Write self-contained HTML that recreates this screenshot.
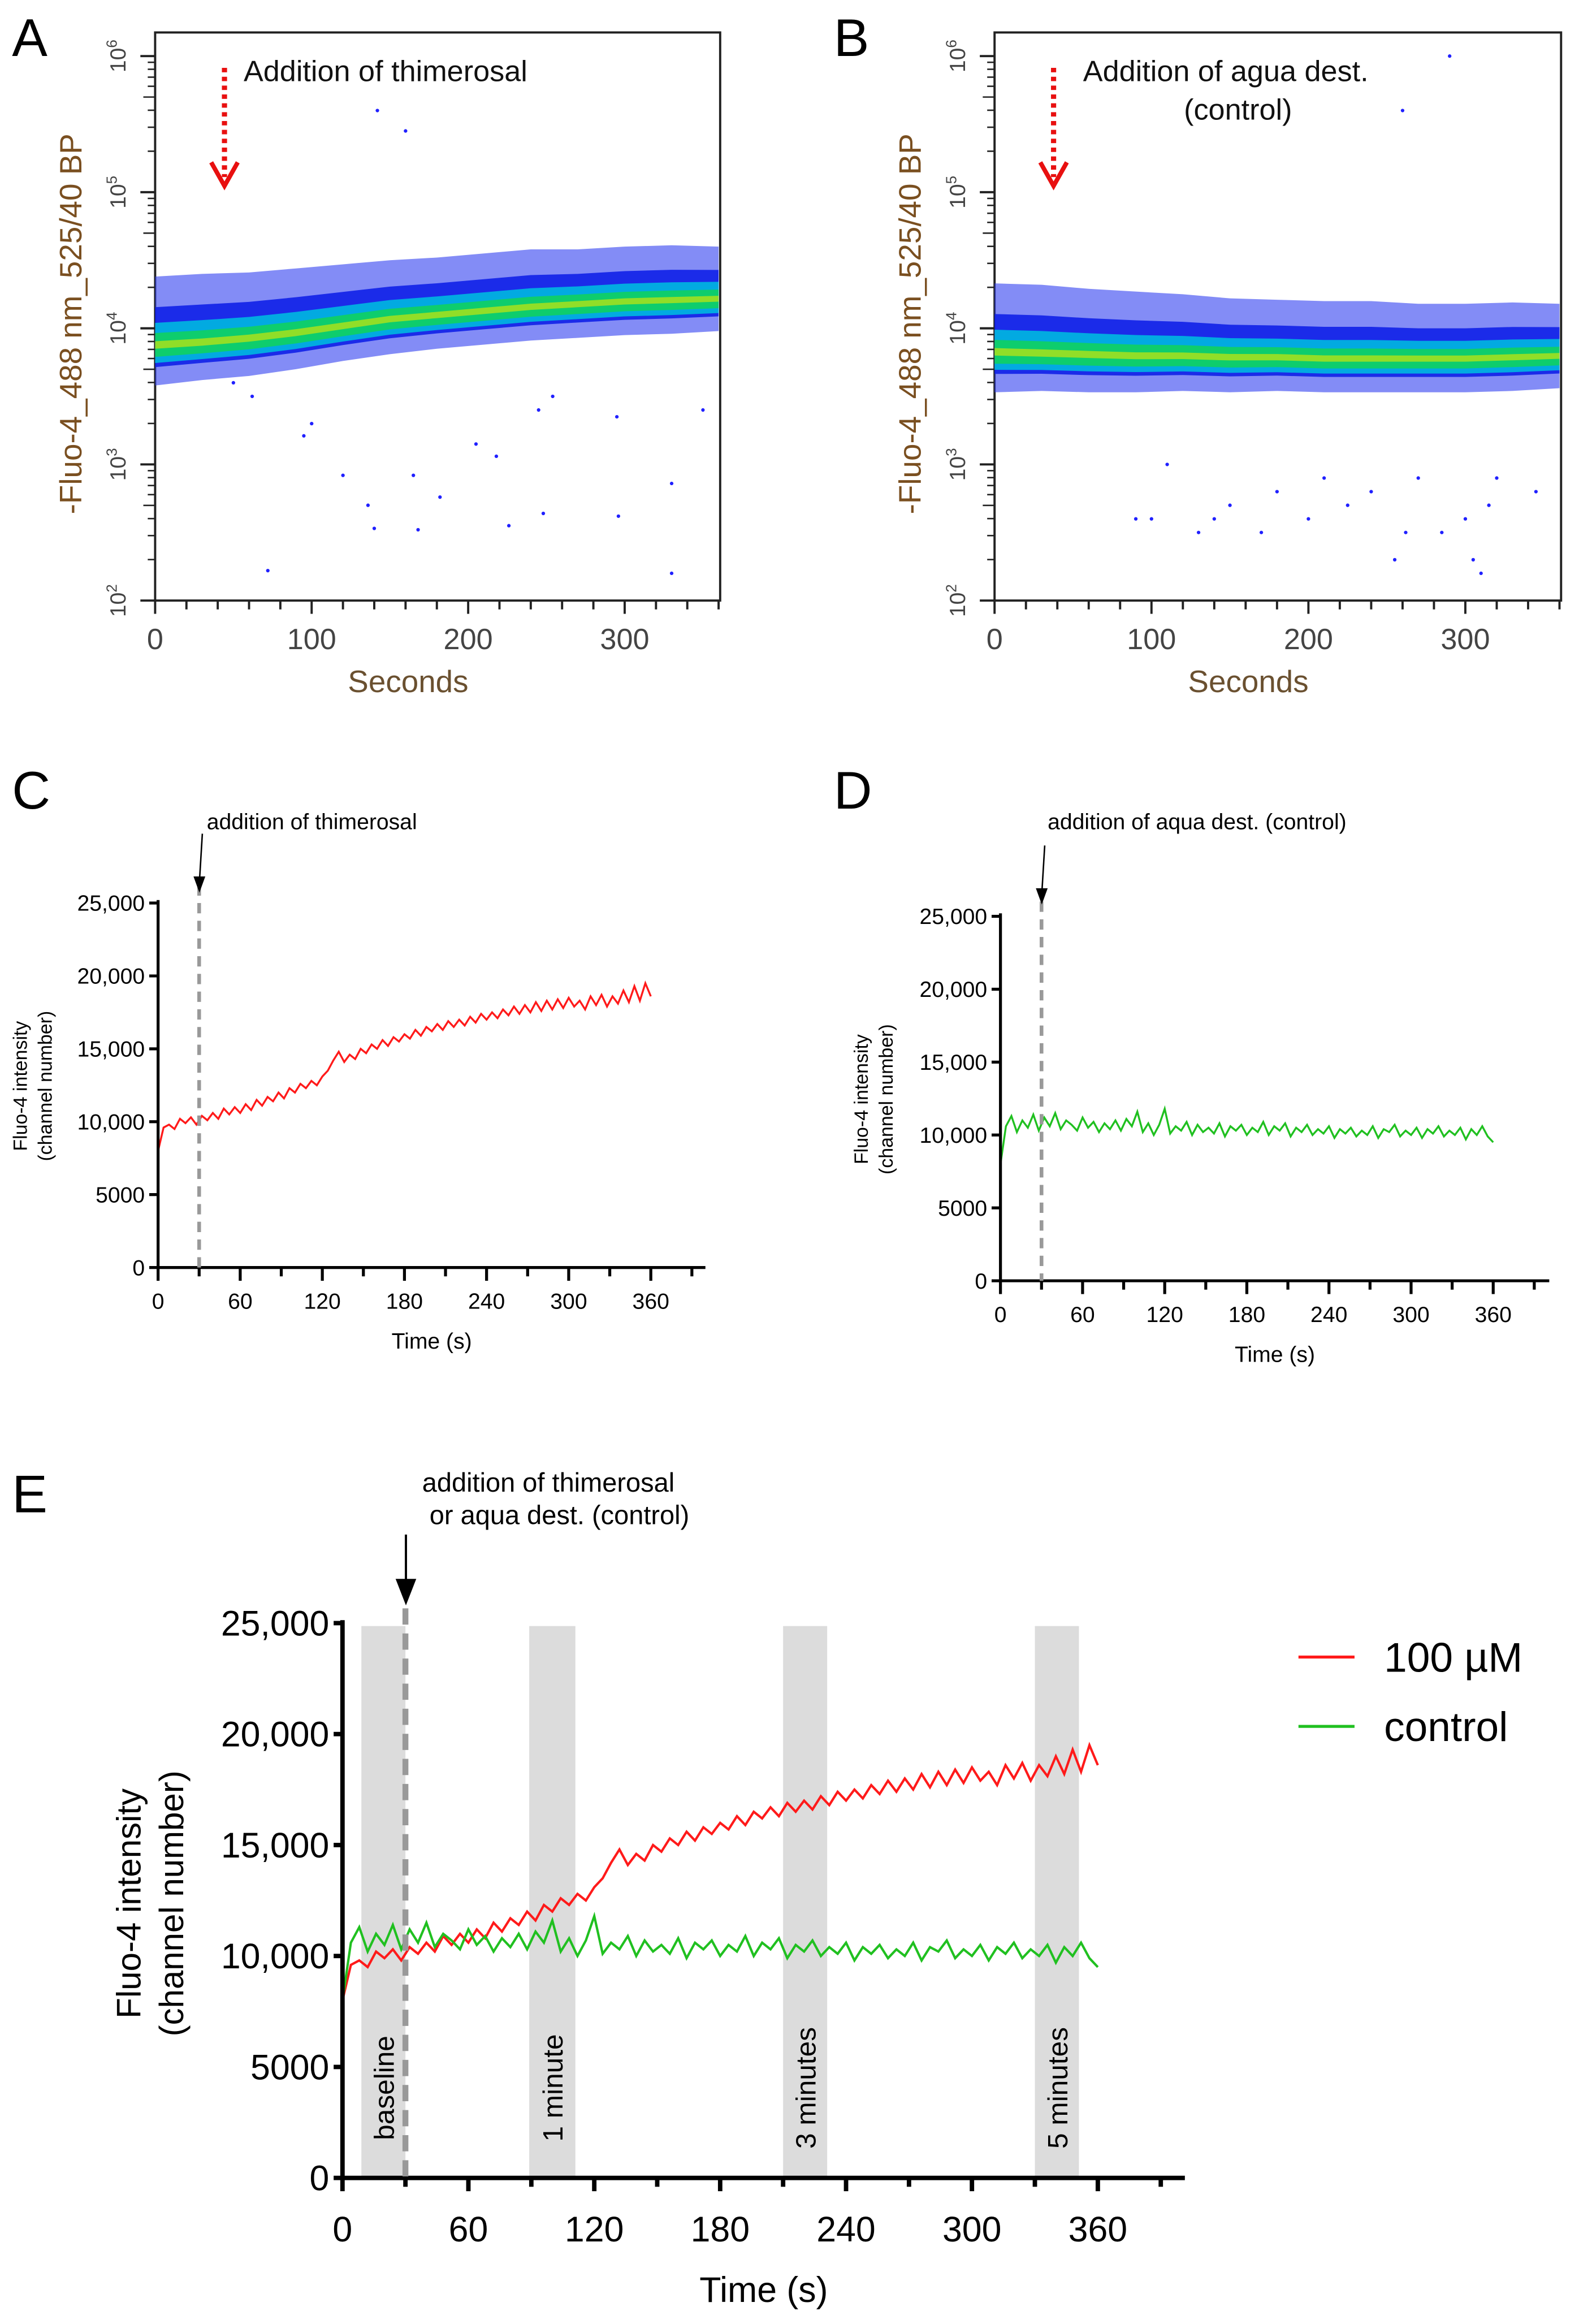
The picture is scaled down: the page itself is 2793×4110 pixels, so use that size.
<!DOCTYPE html>
<html><head><meta charset="utf-8"><style>
html,body{margin:0;padding:0;background:#fff}
svg{display:block}
text{font-family:"Liberation Sans",Arial,sans-serif}
</style></head><body>
<svg id="fig" width="2793" height="4110" viewBox="0 0 1070 1575" xmlns="http://www.w3.org/2000/svg">
<g id="gA"></g>
<g id="gB"></g>
<g id="gC"></g>
<g id="gD"></g>
<g id="gE"></g>
</svg>
<script>
// ---- data ----
const scatterTimes=[0,30,60,90,120,150,180,210,240,270,300,330,360];
const centerA=[3.88,3.9,3.93,3.97,4.02,4.07,4.1,4.13,4.16,4.18,4.2,4.21,4.22];
const centerB=[3.83,3.82,3.81,3.8,3.8,3.79,3.79,3.78,3.78,3.78,3.78,3.79,3.8];
const blueUp=[0.5,0.5,0.48,0.47,0.45,0.43,0.42,0.42,0.42,0.4,0.4,0.4,0.38];
const blueDown=[0.3,0.28,0.28,0.27,0.26,0.26,0.25,0.25,0.25,0.25,0.25,0.25,0.24];
const outliersA_t=[72,120,136,140,142,160,165,168,182,205,218,226,248,254,296,330,330,350,95,100,50,62,245,295];
const outliersA_v=[2.22,2.92,2.7,2.53,5.6,5.45,2.92,2.52,2.76,3.15,3.06,2.55,2.64,3.5,2.62,2.2,2.86,3.4,3.21,3.3,3.6,3.5,3.4,3.35];
const outliersB_t=[90,100,130,140,150,170,200,210,225,240,255,262,270,285,290,300,305,310,315,320,110,180,260,345];
const outliersB_v=[2.6,2.6,2.5,2.6,2.7,2.5,2.6,2.9,2.7,2.8,2.3,2.5,2.9,2.5,6.0,2.6,2.3,2.2,2.7,2.9,3.0,2.8,5.6,2.8];
const red=[8000,9600,9800,9500,10200,9900,10300,9800,10400,10100,10600,10200,10900,10500,11000,10600,11200,10800,11500,11100,11700,11400,12000,11600,12300,12000,12600,12300,12800,12500,13100,13500,14200,14800,14100,14600,14300,15000,14700,15300,15000,15600,15200,15800,15500,16000,15700,16300,15900,16500,16200,16700,16300,16900,16500,17000,16600,17200,16800,17400,17000,17500,17100,17700,17300,17900,17400,18000,17500,18200,17600,18300,17700,18400,17800,18500,17900,18300,17700,18600,18000,18700,17900,18600,18100,19000,18200,19300,18300,19500,18600];
const green=[8000,10600,11300,10200,11000,10500,11400,10300,11200,10600,11500,10400,11000,10700,10300,11200,10500,10900,10200,10800,10400,11000,10300,11100,10600,11600,10200,10800,10000,10700,11800,10100,10600,10300,10900,10000,10700,10200,10500,10100,10800,9900,10600,10300,10700,10000,10500,10200,10900,10000,10600,10300,10800,9900,10500,10200,10700,10000,10400,10100,10600,9800,10400,10100,10500,9900,10300,10000,10600,9800,10400,10200,10700,9900,10300,10000,10500,9800,10400,10100,10600,9900,10300,10000,10500,9700,10400,10000,10600,9900,9500];
const yTicksLin=[0,5000,10000,15000,20000,25000];
const yTickLabels=["0","5000","10,000","15,000","20,000","25,000"];
const xTicksLin=[0,60,120,180,240,300,360];
const bandStarts=[9,89,210,330];
const bandEnds=[30,111,231,351];
const bandLabels=["baseline","1 minute","3 minutes","5 minutes"];
const logTicks=[2,3,4,5,6];
const xTicksSec=[0,100,200,300];

const NS="http://www.w3.org/2000/svg";
function el(p,tag,attrs,txt){const e=document.createElementNS(NS,tag);for(const k in attrs)e.setAttribute(k,attrs[k]);if(txt!==undefined)e.textContent=txt;p.appendChild(e);return e;}

function scatter(g,left,right,top,bottom,center,outT,outV,label,label2,arrowX){
  const xs=t=>left+t*(right-left)/361;
  const ys=v=>bottom-(v-2)*(bottom-top-16)/4;
  el(g,'rect',{x:left,y:top,width:right-left,height:bottom-top,fill:'#fff',stroke:'#222','stroke-width':1.5});
  const layers=[[1,1,'#3040f0',0.6],[0.55,0.55,'#1020e8',0.9],[0.32,0.45,'#00b8e0',0.9],[0.17,0.3,'#10d060',0.9],[0.05,0.1,'#a0e020',0.9]];
  layers.forEach((L,li)=>{
    let up=[],dn=[];
    scatterTimes.forEach((t,i)=>{up.push(xs(t)+','+ys(center[i]+blueUp[i]*L[0]));dn.unshift(xs(t)+','+ys(center[i]-blueDown[i]*L[1]));});
    const pg=el(g,'polygon',{points:up.concat(dn).join(' '),fill:L[2],opacity:L[3]});
    
    
  });
  outT.forEach((t,i)=>{const c=el(g,'circle',{cx:xs(t),cy:ys(outV[i]),r:1.2,fill:'#2020ff'});
    
    });
  logTicks.forEach(k=>{
    el(g,'line',{x1:left-10,x2:left,y1:ys(k),y2:ys(k),stroke:'#222','stroke-width':1.5});
    for(let m=2;m<10&&k<6;m++){const yy=ys(k+Math.log10(m));el(g,'line',{x1:left-(m==5?8:5),x2:left,y1:yy,y2:yy,stroke:'#222','stroke-width':1});}
    const t=el(g,'text',{x:0,y:0,'font-size':15,fill:'#444',transform:`translate(${left-20},${ys(k)}) rotate(-90)`,'text-anchor':'middle'});
    t.textContent='10';el(t,'tspan',{dy:-6,'font-size':10},String(k));
  });
  for(let t=0;t<=360;t+=20){el(g,'line',{x1:xs(t),x2:xs(t),y1:bottom,y2:bottom+(t%100==0?9:6),stroke:'#222','stroke-width':1.5});}
  xTicksSec.forEach(t=>el(g,'text',{x:xs(t),y:bottom+33,'font-size':20,fill:'#444','text-anchor':'middle'},String(t)));
  el(g,'text',{x:(left+right)/2-20,y:bottom+62,'font-size':21,fill:'#6a5030','text-anchor':'middle'},'Seconds');
  el(g,'text',{x:0,y:0,'font-size':21,fill:'#7a4f20','text-anchor':'middle',transform:`translate(${left-50},${(top+bottom)/2+5}) rotate(-90)`},'-Fluo-4_488 nm_525/40 BP');
  el(g,'line',{x1:arrowX,x2:arrowX,y1:top+24,y2:top+98,stroke:'#e81010','stroke-width':3.5,'stroke-dasharray':'3,3'});
  el(g,'polyline',{points:`${arrowX-9},${top+88} ${arrowX},${top+104} ${arrowX+9},${top+88}`,fill:'none',stroke:'#e81010','stroke-width':3});
  el(g,'text',{x:left+60,y:top+33,'font-size':20,fill:'#111'},label);
  if(label2)el(g,'text',{x:left+165,y:top+59,'font-size':20,fill:'#111','text-anchor':'middle'},label2);
}
scatter(document.getElementById('gA'),105,488,22,407,centerA,outliersA_t,outliersA_v,'Addition of thimerosal',null,152);
scatter(document.getElementById('gB'),674,1058,22,407,centerB,outliersB_t,outliersB_v,'Addition of agua dest.','(control)',714);
el(document.getElementById('gA'),'text',{x:8,y:38,'font-size':36,fill:'#000'},'A');
el(document.getElementById('gB'),'text',{x:565,y:38,'font-size':36,fill:'#000'},'B');

function linePanel(g,x0,x360,axEnd,y0,y25,series,colors,fs,tfs,lw,tickOff,titleOff){
  const xs=t=>x0+t*(x360-x0)/360;
  const ys=v=>y0-v*(y0-y25)/25000;
  const sw=fs>18?3:2;
  series.forEach((s,si)=>{
    const pts=s.map((v,i)=>xs(i*360/(s.length-1))+','+ys(v)).join(' ');
    const pl=el(g,'polyline',{points:pts,fill:'none',stroke:colors[si],'stroke-width':lw});
    
    
  });
  el(g,'line',{x1:x0,x2:x0,y1:y25-2,y2:y0,stroke:'#000','stroke-width':sw});
  el(g,'line',{x1:x0,x2:axEnd,y1:y0,y2:y0,stroke:'#000','stroke-width':sw});
  yTicksLin.forEach((v,i)=>{el(g,'line',{x1:x0-6,x2:x0,y1:ys(v),y2:ys(v),stroke:'#000','stroke-width':sw});
    el(g,'text',{x:x0-9,y:ys(v)+fs*0.35,'font-size':fs,'text-anchor':'end'},yTickLabels[i]);});
  for(let t=0;t<=400;t+=30){const x=xs(t);if(x>axEnd+1)break;el(g,'line',{x1:x,x2:x,y1:y0,y2:y0+(t%60==0?9:6),stroke:'#000','stroke-width':sw});}
  xTicksLin.forEach(t=>el(g,'text',{x:xs(t),y:y0+tickOff,'font-size':fs,'text-anchor':'middle'},String(t)));
  el(g,'text',{x:(x0+axEnd)/2,y:y0+titleOff,'font-size':tfs,'text-anchor':'middle'},'Time (s)');
  return {xs,ys};
}
// C
(function(){const g=document.getElementById('gC');
 const a=linePanel(g,107,441,478,859,612,[red],['#ff1a1a'],15,15,1.3,28,55);
 el(g,'line',{x1:a.xs(30),x2:a.xs(30),y1:600,y2:859,stroke:'#999','stroke-width':2.5,'stroke-dasharray':'7,5'});
 el(g,'line',{x1:137,x2:135,y1:565,y2:598,stroke:'#000','stroke-width':1});
 el(g,'polygon',{points:'131,594 135,605 139,594',fill:'#000'});
 el(g,'text',{x:140,y:562,'font-size':15},'addition of thimerosal');
 el(g,'text',{x:0,y:0,'font-size':13,'text-anchor':'middle',transform:'translate(18,736) rotate(-90)'},'Fluo-4 intensity');
 el(g,'text',{x:0,y:0,'font-size':13,'text-anchor':'middle',transform:'translate(35,736) rotate(-90)'},'(channel number)');
 el(g,'text',{x:8,y:548,'font-size':36},'C');})();
// D
(function(){const g=document.getElementById('gD');
 const a=linePanel(g,678,1012,1050,868,621,[green],['#20c020'],15,15,1.3,28,55);
 el(g,'line',{x1:a.xs(30),x2:a.xs(30),y1:611,y2:868,stroke:'#999','stroke-width':2.5,'stroke-dasharray':'7,5'});
 el(g,'line',{x1:708,x2:706,y1:573,y2:606,stroke:'#000','stroke-width':1});
 el(g,'polygon',{points:'702,602 706,613 710,602',fill:'#000'});
 el(g,'text',{x:710,y:562,'font-size':15},'addition of aqua dest. (control)');
 el(g,'text',{x:0,y:0,'font-size':13,'text-anchor':'middle',transform:'translate(588,745) rotate(-90)'},'Fluo-4 intensity');
 el(g,'text',{x:0,y:0,'font-size':13,'text-anchor':'middle',transform:'translate(605,745) rotate(-90)'},'(channel number)');
 el(g,'text',{x:565,y:548,'font-size':36},'D');})();
// E
(function(){const g=document.getElementById('gE');
 const xs=t=>232+t*(744-232)/360;
 bandStarts.forEach((s,i)=>{const r=el(g,'rect',{x:xs(s),y:1102,width:xs(bandEnds[i])-xs(s),height:374,fill:'#dcdcdc'});
   
   
   const cx=(xs(s)+xs(bandEnds[i]))/2;
   el(g,'text',{x:0,y:0,'font-size':19,'text-anchor':'middle',transform:`translate(${cx+7},${1415}) rotate(-90)`},bandLabels[i]);});
 linePanel(g,232,744,803,1476,1100,[red,green],['#ff1a1a','#20c020'],24,24,1.6,43,84);
 el(g,'line',{x1:xs(30),x2:xs(30),y1:1090,y2:1476,stroke:'#999','stroke-width':4,'stroke-dasharray':'11,6'});
 el(g,'line',{x1:275,x2:275,y1:1040,y2:1075,stroke:'#000','stroke-width':1.5});
 el(g,'polygon',{points:'268,1070 275,1088 282,1070',fill:'#000'});
 el(g,'text',{x:286,y:1011,'font-size':18},'addition of thimerosal');
 el(g,'text',{x:291,y:1033,'font-size':18},'or aqua dest. (control)');
 el(g,'text',{x:0,y:0,'font-size':23,'text-anchor':'middle',transform:'translate(95,1290) rotate(-90)'},'Fluo-4 intensity');
 el(g,'text',{x:0,y:0,'font-size':23,'text-anchor':'middle',transform:'translate(124,1290) rotate(-90)'},'(channel number)');
 el(g,'text',{x:8,y:1025,'font-size':36},'E');
 const l1=el(g,'line',{x1:880,x2:918,y1:1123,y2:1123,stroke:'#ff1a1a','stroke-width':2});
 
 
 el(g,'text',{x:938,y:1133,'font-size':28},'100 µM');
 const l2=el(g,'line',{x1:880,x2:918,y1:1170,y2:1170,stroke:'#20c020','stroke-width':2});
 
 
 el(g,'text',{x:938,y:1180,'font-size':28},'control');})();
</script>
</body></html>
